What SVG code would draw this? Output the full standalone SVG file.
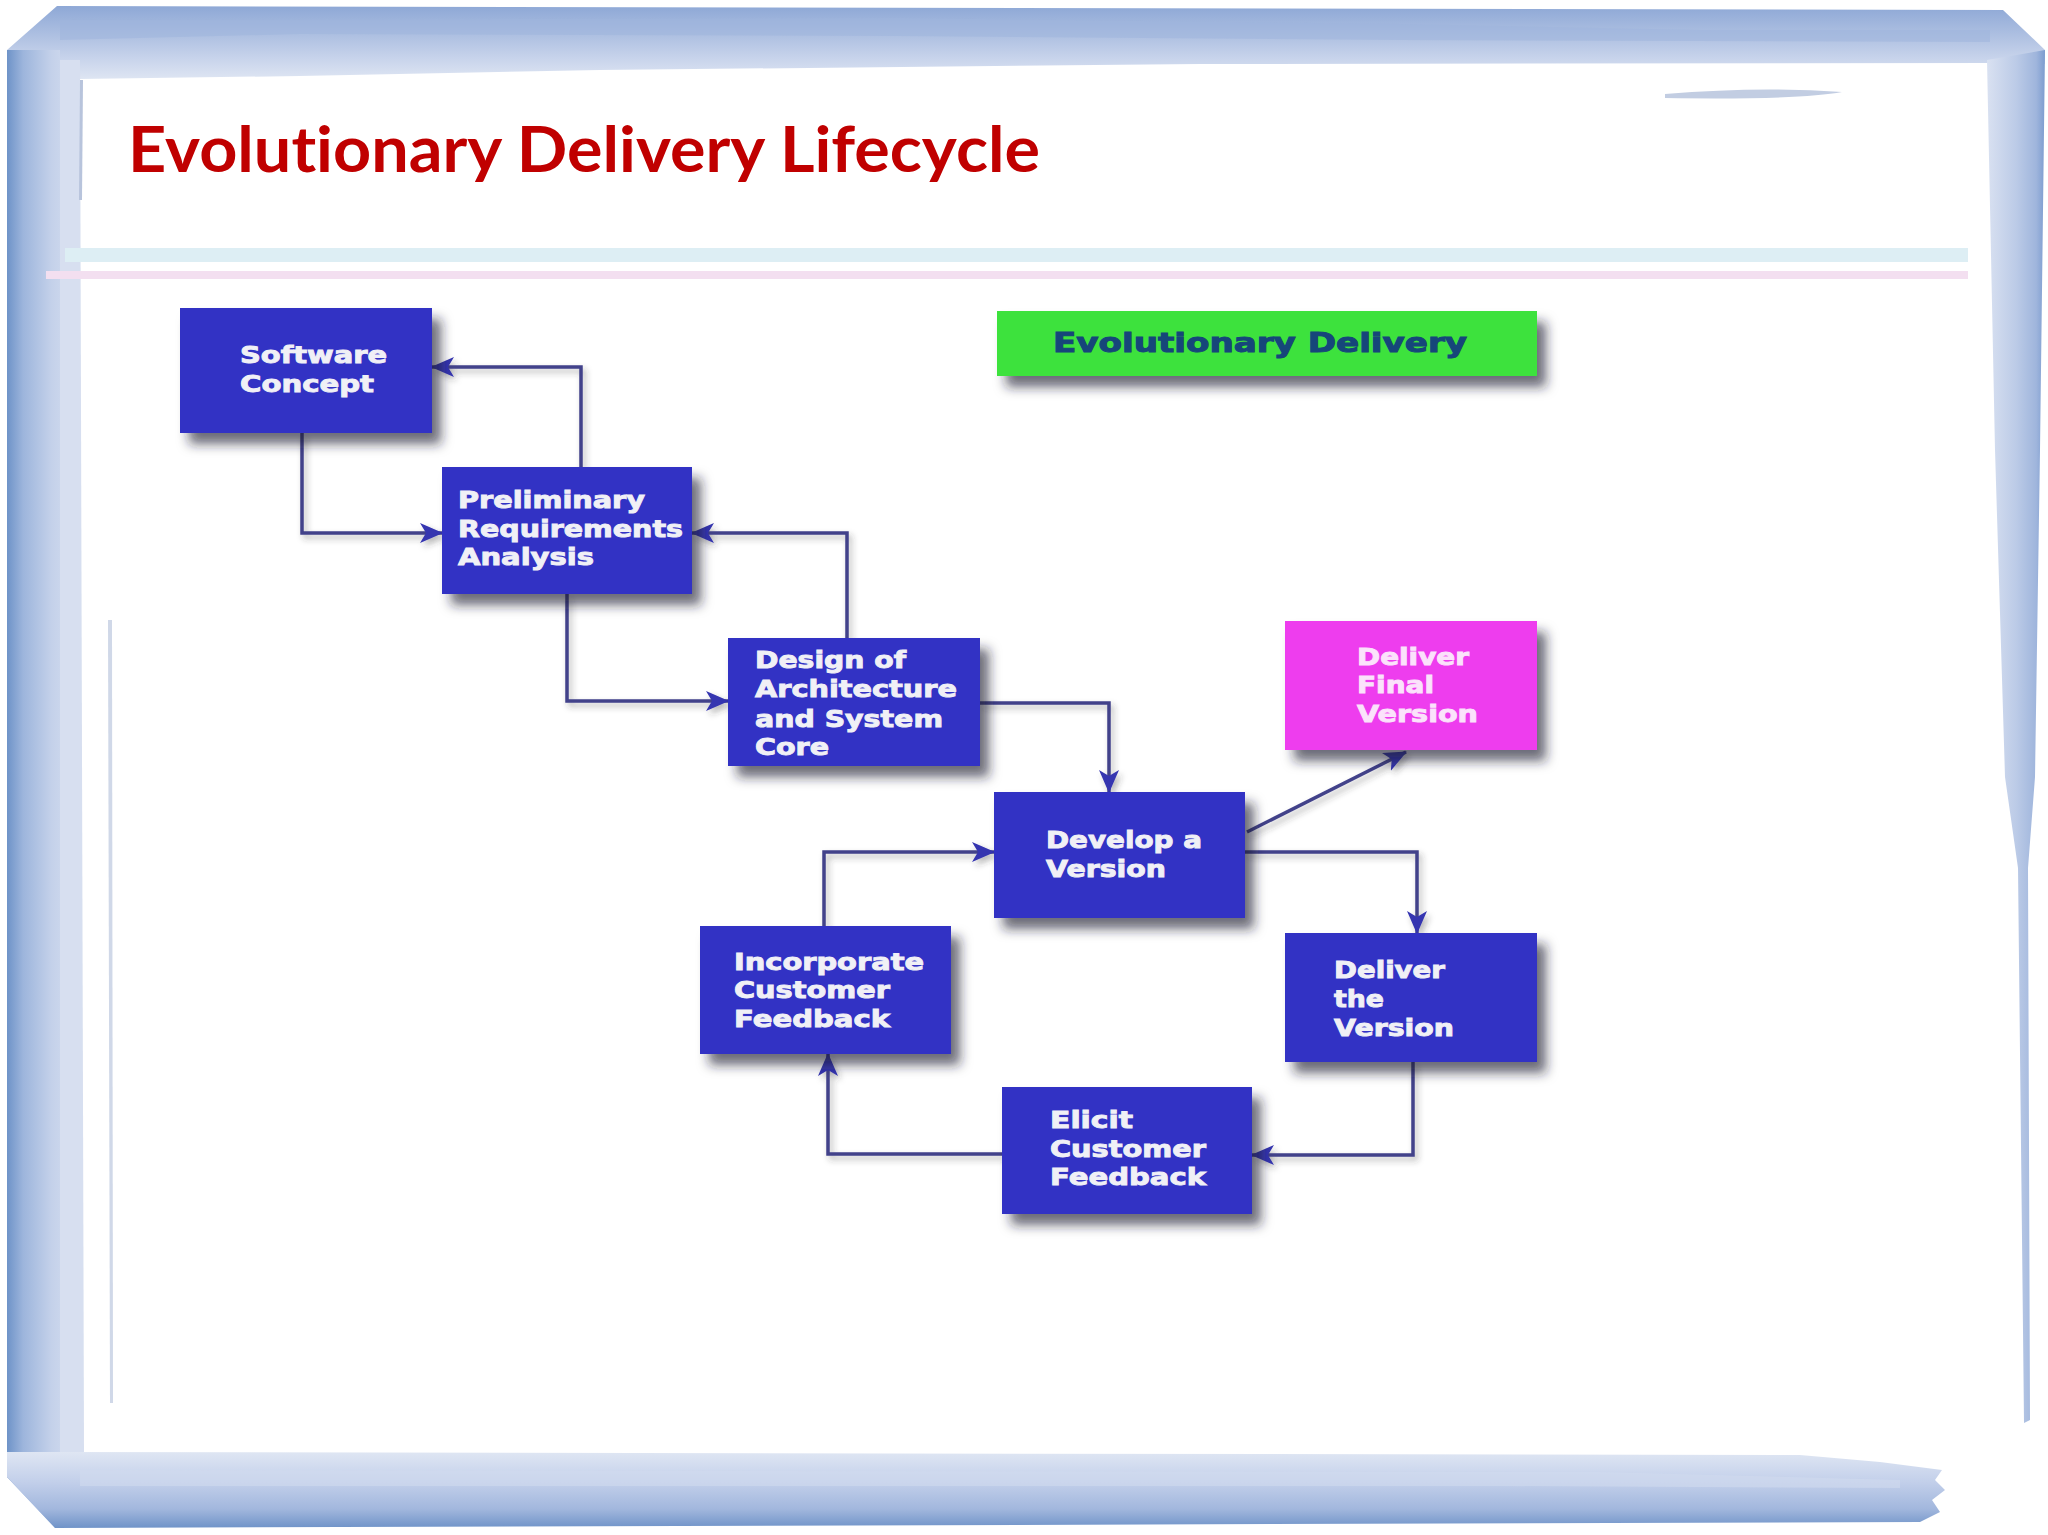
<svg xmlns="http://www.w3.org/2000/svg" width="2048" height="1535" viewBox="0 0 2048 1535">
<defs>
<style>
.box{fill:#3030c4;}
.lbl{font-family:"DejaVu Sans","Liberation Sans",sans-serif;font-weight:bold;font-size:23px;fill:#f0f0f6;stroke:#f0f0f6;stroke-width:0.9px;}
.plbl{font-family:"DejaVu Sans","Liberation Sans",sans-serif;font-weight:bold;font-size:23px;fill:#fbe2fb;stroke:#fbe2fb;stroke-width:0.9px;}
.conn{fill:none;stroke:#42428a;stroke-width:3.5;}
</style>
<filter id="sh" x="-20%" y="-20%" width="150%" height="160%">
<feDropShadow dx="9" dy="11" stdDeviation="6" flood-color="#1a1a30" flood-opacity="0.65"/>
</filter>
<filter id="lsh" x="-20%" y="-20%" width="150%" height="150%">
<feDropShadow dx="3" dy="4" stdDeviation="3" flood-color="#333" flood-opacity="0.35"/>
</filter>
<marker id="ah" markerUnits="userSpaceOnUse" markerWidth="24" markerHeight="22" viewBox="0 0 24 22" refX="22" refY="11" orient="auto">
<path d="M0,1 L23,11 L0,21 L6,11 z" fill="#3434b0"/>
</marker>
<linearGradient id="gTop" x1="0" y1="0" x2="0" y2="1">
<stop offset="0" stop-color="#8ea8d6"/>
<stop offset="0.35" stop-color="#aabde0"/>
<stop offset="0.7" stop-color="#c7d3eb"/>
<stop offset="1" stop-color="#dfe6f3"/>
</linearGradient>
<linearGradient id="gLeft" x1="0" y1="0" x2="1" y2="0">
<stop offset="0" stop-color="#6e93c8"/>
<stop offset="0.2" stop-color="#9db5dc"/>
<stop offset="0.55" stop-color="#c4d1ea"/>
<stop offset="1" stop-color="#dde4f2"/>
</linearGradient>
<linearGradient id="gRight" x1="0" y1="0" x2="1" y2="0">
<stop offset="0" stop-color="#d9e1f1"/>
<stop offset="0.5" stop-color="#bccbe7"/>
<stop offset="0.85" stop-color="#9fb5dc"/>
<stop offset="1" stop-color="#7c9ccf"/>
</linearGradient>
<linearGradient id="gBot" x1="0" y1="0" x2="0" y2="1">
<stop offset="0" stop-color="#dfe6f3"/>
<stop offset="0.4" stop-color="#c2cfea"/>
<stop offset="0.75" stop-color="#a2b7dd"/>
<stop offset="1" stop-color="#6f93c8"/>
</linearGradient>
</defs>

<!-- background & frame -->
<g id="frame">
<rect x="0" y="0" width="2048" height="1535" fill="#ffffff"/>
<path d="M7,50 L57,6 L2003,10 L2045,50 L2045,64 L1990,63 L1200,64 L600,70 L300,76 L80,79 L60,80 L7,80 z" fill="url(#gTop)"/>
<path d="M60,20 L900,18 L1400,24 L1700,30 L1990,30 L1990,42 L1400,40 L900,36 L300,34 L60,40 z" fill="#9fb4dc" opacity="0.55"/>
<path d="M7,50 L60,50 L60,1477 L88,1500 L55,1528 L7,1477 z" fill="url(#gLeft)"/>
<path d="M60,60 L80,60 L84,1452 L60,1452 z" fill="#d7dff0"/>
<path d="M1987,60 L2045,50 L2040,450 L2035,777 L2028,868 L2030,1420 L2024,1423 L2018,868 L2005,777 L1995,450 z" fill="url(#gRight)"/>
<path d="M55,1452 L1800,1455 L1880,1462 L1942,1470 L1935,1480 L1945,1490 L1932,1500 L1940,1512 L1920,1522 L55,1528 L7,1477 L7,1452 z" fill="url(#gBot)"/>
<path d="M80,1470 L1600,1472 L1900,1480 L1900,1488 L1500,1486 L80,1486 z" fill="#d0daee" opacity="0.6"/>
<path d="M80,80 L83,80 L82,200 L79,200 z" fill="#b8c4dc"/>
<path d="M108,620 L112,620 L113,1403 L110,1403 z" fill="#d0d8e8"/>
<path d="M1665,94 Q1760,86 1842,92 Q1800,100 1665,98 z" fill="#c2cde2"/>
<rect x="65" y="248" width="1903" height="14" fill="#ddeef4"/>
<rect x="46" y="271" width="1922" height="8" fill="#f3dff0"/>
</g>

<text id="title" x="128" y="172" font-family="Lato,'Open Sans',sans-serif" font-weight="bold" font-size="64" fill="#c00000" style="font-variant-ligatures:none" textLength="912" lengthAdjust="spacingAndGlyphs">Evolutionary Delivery Lifecycle</text>

<!-- connectors -->
<g id="connectors" filter="url(#lsh)">
<path class="conn" d="M302,433 V533 H442" marker-end="url(#ah)"/>
<path class="conn" d="M581,467 V367 H432" marker-end="url(#ah)"/>
<path class="conn" d="M567,594 V701 H728" marker-end="url(#ah)"/>
<path class="conn" d="M847,638 V533 H692" marker-end="url(#ah)"/>
<path class="conn" d="M980,703 H1109 V792" marker-end="url(#ah)"/>
<path class="conn" d="M1247,832 L1406,752" marker-end="url(#ah)"/>
<path class="conn" d="M1245,852 H1417 V933" marker-end="url(#ah)"/>
<path class="conn" d="M1413,1062 V1155 H1252" marker-end="url(#ah)"/>
<path class="conn" d="M1002,1154 H828 V1054" marker-end="url(#ah)"/>
<path class="conn" d="M824,926 V852 H994" marker-end="url(#ah)"/>
</g>

<g id="legend">
<rect x="997" y="311" width="540" height="65" fill="#3de23d" filter="url(#sh)"/>
<text x="1053" y="352" font-family="'DejaVu Sans','Liberation Sans',sans-serif" font-weight="bold" font-size="26" fill="#16467a" stroke="#16467a" stroke-width="1" textLength="414" lengthAdjust="spacingAndGlyphs">Evolutionary Delivery</text>
</g>

<g id="software-concept">
<rect class="box" x="180" y="308" width="252" height="125" filter="url(#sh)"/>
<text class="lbl" x="240" y="363" textLength="147" lengthAdjust="spacingAndGlyphs">Software</text>
<text class="lbl" x="240" y="392" textLength="134" lengthAdjust="spacingAndGlyphs">Concept</text>
</g>

<g id="preliminary-requirements">
<rect class="box" x="442" y="467" width="250" height="127" filter="url(#sh)"/>
<text class="lbl" x="458" y="508" textLength="187" lengthAdjust="spacingAndGlyphs">Preliminary</text>
<text class="lbl" x="458" y="537" textLength="225" lengthAdjust="spacingAndGlyphs">Requirements</text>
<text class="lbl" x="458" y="565" textLength="136" lengthAdjust="spacingAndGlyphs">Analysis</text>
</g>

<g id="design-architecture">
<rect class="box" x="728" y="638" width="252" height="128" filter="url(#sh)"/>
<text class="lbl" x="755" y="668" textLength="151" lengthAdjust="spacingAndGlyphs">Design of</text>
<text class="lbl" x="755" y="697" textLength="202" lengthAdjust="spacingAndGlyphs">Architecture</text>
<text class="lbl" x="755" y="727" textLength="188" lengthAdjust="spacingAndGlyphs">and System</text>
<text class="lbl" x="755" y="755" textLength="74" lengthAdjust="spacingAndGlyphs">Core</text>
</g>

<g id="develop-version">
<rect class="box" x="994" y="792" width="251" height="126" filter="url(#sh)"/>
<text class="lbl" x="1046" y="848" textLength="156" lengthAdjust="spacingAndGlyphs">Develop a</text>
<text class="lbl" x="1046" y="877" textLength="120" lengthAdjust="spacingAndGlyphs">Version</text>
</g>

<g id="deliver-final">
<rect x="1285" y="621" width="252" height="129" fill="#ee3cee" filter="url(#sh)"/>
<text class="plbl" x="1357" y="665" textLength="112" lengthAdjust="spacingAndGlyphs">Deliver</text>
<text class="plbl" x="1357" y="693" textLength="77" lengthAdjust="spacingAndGlyphs">Final</text>
<text class="plbl" x="1357" y="722" textLength="121" lengthAdjust="spacingAndGlyphs">Version</text>
</g>

<g id="incorporate-feedback">
<rect class="box" x="700" y="926" width="251" height="128" filter="url(#sh)"/>
<text class="lbl" x="734" y="970" textLength="190" lengthAdjust="spacingAndGlyphs">Incorporate</text>
<text class="lbl" x="734" y="998" textLength="156" lengthAdjust="spacingAndGlyphs">Customer</text>
<text class="lbl" x="734" y="1027" textLength="156" lengthAdjust="spacingAndGlyphs">Feedback</text>
</g>

<g id="deliver-version">
<rect class="box" x="1285" y="933" width="252" height="129" filter="url(#sh)"/>
<text class="lbl" x="1334" y="978" textLength="111" lengthAdjust="spacingAndGlyphs">Deliver</text>
<text class="lbl" x="1334" y="1007" textLength="50" lengthAdjust="spacingAndGlyphs">the</text>
<text class="lbl" x="1334" y="1036" textLength="120" lengthAdjust="spacingAndGlyphs">Version</text>
</g>

<g id="elicit-feedback">
<rect class="box" x="1002" y="1087" width="250" height="127" filter="url(#sh)"/>
<text class="lbl" x="1050" y="1128" textLength="83" lengthAdjust="spacingAndGlyphs">Elicit</text>
<text class="lbl" x="1050" y="1157" textLength="156" lengthAdjust="spacingAndGlyphs">Customer</text>
<text class="lbl" x="1050" y="1185" textLength="156" lengthAdjust="spacingAndGlyphs">Feedback</text>
</g>
</svg>
